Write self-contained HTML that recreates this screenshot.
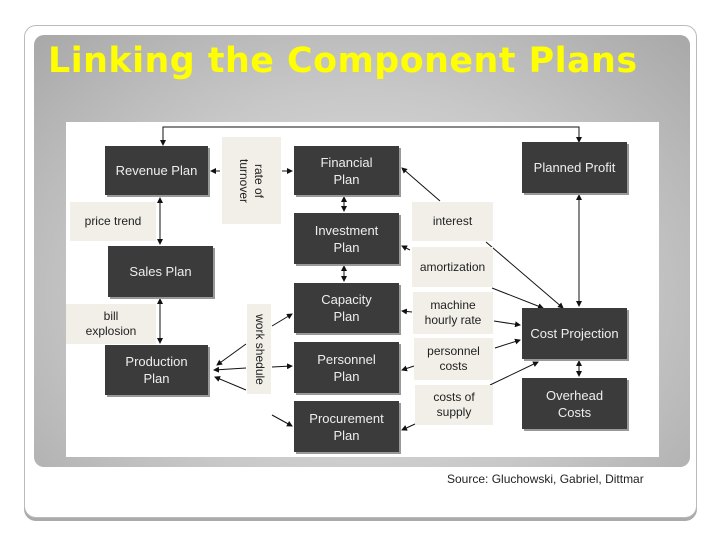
<!DOCTYPE html>
<html><head><style>
body{margin:0;width:720px;height:540px;background:#fff;position:relative;overflow:hidden;font-family:"Liberation Sans",sans-serif}
.card{position:absolute;left:24px;top:25px;width:671px;height:491px;border:1px solid #bbb;border-radius:12px;background:#fff;box-shadow:0 3px 0 #aaa}
.panel{position:absolute;left:34px;top:35px;width:656px;height:432px;border-radius:10px;background:radial-gradient(ellipse at 50% 60%,#e6e6e6 0%,#c8c8c8 55%,#a8a8a8 100%)}
h1{position:absolute;left:48px;top:41px;margin:0;font-size:35px;color:#ffff00;font-weight:bold;letter-spacing:0.5px;font-family:"DejaVu Sans","Liberation Sans",sans-serif;transform:scaleX(0.995);transform-origin:left;white-space:nowrap}
.dia{position:absolute;left:66px;top:122px;width:593px;height:335px;background:#fff}
.b{position:absolute;background:#3b3b3b;color:#eee;font-size:13px;display:flex;align-items:center;justify-content:center;text-align:center;line-height:17px;box-shadow:2px 2px 0 #999}
.l{position:absolute;background:#f1efe8;color:#222;font-size:12px;display:flex;align-items:center;justify-content:center;text-align:center;line-height:15px}
.src{position:absolute;left:447px;top:472px;font-size:12px;color:#222}
</style></head><body>
<div class="card"></div>
<div class="panel"></div>
<h1>Linking the Component Plans</h1>
<div class="dia"></div>
<svg style="position:absolute;left:0;top:0" width="720" height="540">
<defs><marker id="a" markerWidth="6" markerHeight="6" refX="5" refY="3" orient="auto-start-reverse"><path d="M0,0L6,3L0,6z" fill="#111"/></marker></defs>
<g stroke="#111" stroke-width="1" fill="none">
<polyline points="163,145 163,127 579,127 579,142" marker-start="url(#a)" marker-end="url(#a)"/>
<line x1="160" y1="198" x2="160" y2="244" marker-start="url(#a)" marker-end="url(#a)"/>
<line x1="160" y1="299" x2="160" y2="343" marker-start="url(#a)" marker-end="url(#a)"/>
<line x1="220" y1="171" x2="211" y2="171" marker-end="url(#a)"/>
<line x1="282" y1="171" x2="292" y2="171" marker-end="url(#a)"/>
<line x1="344" y1="197" x2="344" y2="211" marker-start="url(#a)" marker-end="url(#a)"/>
<line x1="344" y1="266" x2="344" y2="281" marker-start="url(#a)" marker-end="url(#a)"/>
<line x1="579" y1="195" x2="579" y2="306" marker-start="url(#a)" marker-end="url(#a)"/>
<line x1="579" y1="361" x2="579" y2="376" marker-start="url(#a)" marker-end="url(#a)"/>
<line x1="246" y1="344" x2="217" y2="365" marker-end="url(#a)"/>
<line x1="246" y1="368" x2="214" y2="370" marker-end="url(#a)"/>
<line x1="246" y1="390" x2="215" y2="377" marker-end="url(#a)"/>
<line x1="272" y1="326" x2="292" y2="314" marker-end="url(#a)"/>
<line x1="272" y1="367" x2="292" y2="366" marker-end="url(#a)"/>
<line x1="272" y1="415" x2="292" y2="426" marker-end="url(#a)"/>
<line x1="440" y1="201" x2="402" y2="168" marker-end="url(#a)"/>
<line x1="410" y1="250" x2="402" y2="246" marker-end="url(#a)"/>
<line x1="412" y1="312" x2="402" y2="311" marker-end="url(#a)"/>
<line x1="414" y1="366" x2="402" y2="370" marker-end="url(#a)"/>
<line x1="415" y1="424" x2="402" y2="430" marker-end="url(#a)"/>
<line x1="486" y1="242" x2="563" y2="308" marker-end="url(#a)"/>
<line x1="492" y1="288" x2="543" y2="308" marker-end="url(#a)"/>
<line x1="494" y1="321" x2="520" y2="325" marker-end="url(#a)"/>
<line x1="495" y1="348" x2="520" y2="340" marker-end="url(#a)"/>
<line x1="490" y1="385" x2="538" y2="362" marker-end="url(#a)"/>
</g></svg>
<div class="b" style="left:105px;top:146px;width:103px;height:49px">Revenue Plan</div>
<div class="b" style="left:108px;top:246px;width:105px;height:51px">Sales Plan</div>
<div class="b" style="left:105px;top:345px;width:103px;height:50px">Production<br>Plan</div>
<div class="b" style="left:294px;top:146px;width:105px;height:49px">Financial<br>Plan</div>
<div class="b" style="left:294px;top:213px;width:105px;height:51px">Investment<br>Plan</div>
<div class="b" style="left:294px;top:283px;width:105px;height:50px">Capacity<br>Plan</div>
<div class="b" style="left:294px;top:342px;width:105px;height:51px">Personnel<br>Plan</div>
<div class="b" style="left:294px;top:401px;width:105px;height:51px">Procurement<br>Plan</div>
<div class="b" style="left:522px;top:142px;width:105px;height:51px">Planned Profit</div>
<div class="b" style="left:522px;top:308px;width:105px;height:51px">Cost Projection</div>
<div class="b" style="left:522px;top:378px;width:105px;height:51px">Overhead<br>Costs</div>
<div class="l" style="left:222px;top:137px;width:59px;height:87px"><div style="transform:rotate(90deg);white-space:nowrap">rate of<br>turnover</div></div>
<div class="l" style="left:70px;top:202px;width:86px;height:39px">price trend</div>
<div class="l" style="left:66px;top:304px;width:90px;height:40px">bill<br>explosion</div>
<div class="l" style="left:247px;top:304px;width:24px;height:90px"><div style="transform:rotate(90deg);white-space:nowrap">work shedule</div></div>
<div class="l" style="left:412px;top:202px;width:81px;height:39px">interest</div>
<div class="l" style="left:412px;top:247px;width:81px;height:40px">amortization</div>
<div class="l" style="left:413px;top:292px;width:80px;height:42px">machine<br>hourly rate</div>
<div class="l" style="left:414px;top:338px;width:79px;height:42px">personnel<br>costs</div>
<div class="l" style="left:415px;top:385px;width:78px;height:40px">costs of<br>supply</div>
<div class="src">Source: Gluchowski, Gabriel, Dittmar</div>
</body></html>
